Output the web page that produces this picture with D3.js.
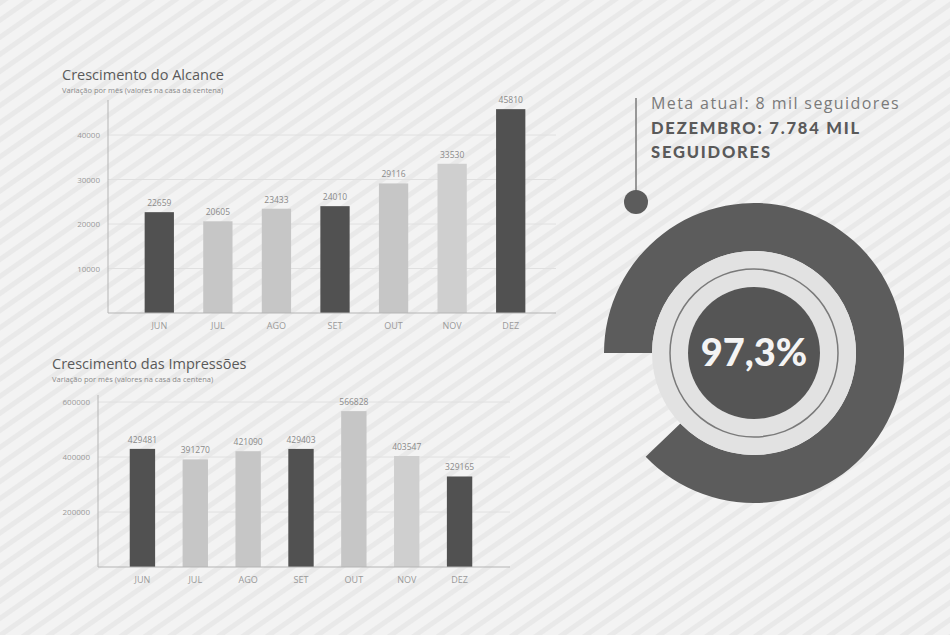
<!DOCTYPE html>
<html>
<head>
<meta charset="utf-8">
<script src="https://cdn.jsdelivr.net/npm/d3@7"></script>
<style>
  html, body { margin: 0; padding: 0; background: #f1f1f1; }
  svg { display: block; }
</style>
</head>
<body>
<svg id="chart" width="950" height="635"></svg>
<script>
// ---- data ----
const months = ["JUN", "JUL", "AGO", "SET", "OUT", "NOV", "DEZ"];
const alcance = [22659, 20605, 23433, 24010, 29116, 33530, 45810];
const impressoes = [429481, 391270, 421090, 429403, 566828, 403547, 329165];
const alcanceTicks = [10000, 20000, 30000, 40000];
const impressoesTicks = [200000, 400000, 600000];
const barTone = ["dark", "light", "light", "dark", "light", "lighter", "dark"];
const metaPercent = 97.3;
const metaText = "Meta atual: 8 mil seguidores";
const dezText1 = "DEZEMBRO: 7.784 MIL";
const dezText2 = "SEGUIDORES";

const toneColor = { dark: "#515151", light: "#c6c6c6", lighter: "#cfcfcf" };

const svg = d3.select("#chart");

// subtle background texture
const defs = svg.append("defs");
const pat = defs.append("pattern").attr("id", "tex").attr("width", 14).attr("height", 14)
  .attr("patternUnits", "userSpaceOnUse").attr("patternTransform", "rotate(-35)");
pat.append("rect").attr("width", 14).attr("height", 14).attr("fill", "#f3f3f3");
pat.append("rect").attr("width", 14).attr("height", 5).attr("fill", "#e9e9e9");
svg.append("rect").attr("width", 950).attr("height", 635).attr("fill", "url(#tex)");

const font = "'Open Sans', 'Noto Sans', sans-serif";

function barChart(cfg) {
  const g = svg.append("g");
  const x = d3.scaleBand().domain(months).range(cfg.xRange).paddingInner(cfg.padding).paddingOuter(cfg.padding / 2);
  const y = d3.scaleLinear().domain([0, cfg.yMax]).range([cfg.base, cfg.top]);

  // title
  g.append("text").attr("x", cfg.titleX).attr("y", cfg.titleY)
    .attr("font-family", font).attr("font-size", 14.5).attr("fill", "#5a5a5a")
    .text(cfg.title);
  g.append("text").attr("x", cfg.titleX).attr("y", cfg.titleY + 13)
    .attr("font-family", font).attr("font-size", 7.5).attr("fill", "#8a8a8a")
    .text(cfg.subtitle);

  // gridlines
  g.append("g").selectAll("line").data(cfg.ticks).join("line")
    .attr("x1", cfg.axisX).attr("x2", cfg.axisEnd)
    .attr("y1", d => y(d)).attr("y2", d => y(d))
    .attr("stroke", "#e0e0e0").attr("stroke-width", 1);

  // y axis
  const ya = g.append("g").attr("transform", `translate(${cfg.axisX},0)`)
    .call(d3.axisLeft(y).tickValues(cfg.ticks).tickSize(0).tickPadding(8).tickFormat(d3.format("d")));
  ya.select(".domain").remove();
  ya.selectAll("text").attr("font-family", font).attr("font-size", 8).attr("fill", "#9a9a9a");
  g.append("line").attr("x1", cfg.axisX).attr("x2", cfg.axisX)
    .attr("y1", cfg.axisTop).attr("y2", cfg.base).attr("stroke", "#b5b5b5");

  // bars
  g.append("g").selectAll("rect").data(cfg.values).join("rect")
    .attr("x", (d, i) => x(months[i]))
    .attr("y", d => y(d))
    .attr("width", x.bandwidth())
    .attr("height", d => y(0) - y(d))
    .attr("fill", (d, i) => toneColor[barTone[i]]);

  // value labels
  g.append("g").selectAll("text").data(cfg.values).join("text")
    .attr("x", (d, i) => x(months[i]) + x.bandwidth() / 2)
    .attr("y", d => y(d) - 6)
    .attr("text-anchor", "middle")
    .attr("font-family", font).attr("font-size", 8.5).attr("fill", "#8a8a8a")
    .text(d => d);

  // baseline
  g.append("line").attr("x1", cfg.axisX).attr("x2", cfg.axisEnd)
    .attr("y1", cfg.base).attr("y2", cfg.base).attr("stroke", "#b5b5b5");

  // x axis
  const xa = g.append("g").attr("transform", `translate(0,${cfg.base})`)
    .call(d3.axisBottom(x).tickSize(0).tickPadding(10));
  xa.select(".domain").remove();
  xa.selectAll("text").attr("font-family", font).attr("font-size", 9).attr("fill", "#9a9a9a");
}

barChart({
  title: "Crescimento do Alcance",
  subtitle: "Variação por mês (valores na casa da centena)",
  titleX: 62, titleY: 80,
  values: alcance, ticks: alcanceTicks,
  xRange: [130, 540], padding: 0.5,
  yMax: 50000, base: 313, top: 90.5,
  axisX: 108, axisEnd: 556, axisTop: 100
});

barChart({
  title: "Crescimento das Impressões",
  subtitle: "Variação por mês (valores na casa da centena)",
  titleX: 52, titleY: 369,
  values: impressoes, ticks: impressoesTicks,
  xRange: [116, 486], padding: 0.52,
  yMax: 600000, base: 567, top: 402,
  axisX: 98, axisEnd: 510, axisTop: 395
});

// ---- donut gauge ----
const cx = 754, cy = 353;
const ang = d3.scaleLinear().domain([0, 100]).range([-Math.PI / 2, -Math.PI / 2 + 325 / 180 * Math.PI]);
const gd = svg.append("g").attr("transform", `translate(${cx},${cy})`);

gd.append("path")
  .attr("d", d3.arc().innerRadius(102).outerRadius(150).startAngle(ang(0)).endAngle(ang(metaPercent))())
  .attr("fill", "#5c5c5c");
gd.append("path")
  .attr("d", d3.arc().innerRadius(66).outerRadius(102).startAngle(0).endAngle(2 * Math.PI)())
  .attr("fill", "#e2e2e2");
gd.append("circle").attr("r", 84).attr("fill", "none").attr("stroke", "#7a7a7a").attr("stroke-width", 1.5);
gd.append("circle").attr("r", 66).attr("fill", "#555555");
gd.append("text").attr("x", 0).attr("y", 13).attr("text-anchor", "middle")
  .attr("font-family", "Lato, 'Open Sans', sans-serif").attr("font-weight", 900)
  .attr("font-size", 38).attr("fill", "#f4f4f4")
  .text(d3.format(".1f")(metaPercent).replace(".", ",") + "%");

// pointer line and dot
svg.append("line").attr("x1", 636).attr("x2", 636).attr("y1", 98).attr("y2", 192)
  .attr("stroke", "#7a7a7a").attr("stroke-width", 1.5);
svg.append("circle").attr("cx", 636).attr("cy", 202).attr("r", 12).attr("fill", "#5c5c5c");

svg.append("text").attr("x", 651).attr("y", 109)
  .attr("font-family", font).attr("font-size", 16).attr("letter-spacing", 1.4).attr("fill", "#7a7a7a")
  .text(metaText);
svg.append("text").attr("x", 651).attr("y", 134)
  .attr("font-family", "Lato, 'Open Sans', sans-serif").attr("font-weight", 900)
  .attr("font-size", 16.5).attr("letter-spacing", 1.8).attr("fill", "#5a5a5a")
  .text(dezText1);
svg.append("text").attr("x", 651).attr("y", 158)
  .attr("font-family", "Lato, 'Open Sans', sans-serif").attr("font-weight", 900)
  .attr("font-size", 16.5).attr("letter-spacing", 1.8).attr("fill", "#5a5a5a")
  .text(dezText2);
</script>
</body>
</html>
